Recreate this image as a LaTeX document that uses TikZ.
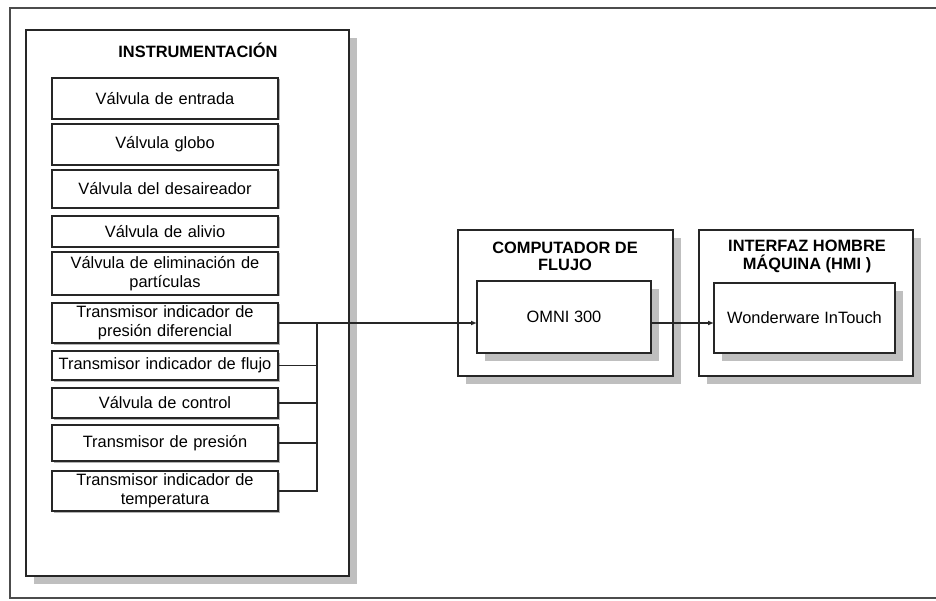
\documentclass[tikz,border=0pt]{standalone}
\usepackage{fontspec}
\setmainfont{Liberation Sans}
\usetikzlibrary{arrows.meta,shadows}
\begin{document}
\begin{tikzpicture}[x=1pt,y=-1pt,
  every node/.style={font=\fontsize{16.4}{19}\selectfont, inner sep=0pt, outer sep=0pt},
  frame/.style={draw=black!85, line width=1.6pt},
  panel/.style={frame, fill=white,
    drop shadow={shadow xshift=8pt, shadow yshift=-8pt, fill=black!25, opacity=1}},
  item/.style={frame, fill=white, minimum width=226pt, align=center, text width=222pt,
    drop shadow={shadow xshift=1.5pt, shadow yshift=-1.5pt, fill=black!30, opacity=1}},
  heading/.style={font=\fontsize{16.4}{17.5}\selectfont\bfseries, align=center},
  link/.style={line width=1.3pt, draw=black!85},
  arr/.style={link, -{Latex[length=6pt,width=5pt]}}
]
\useasboundingbox (0,0) rectangle (936,601);

% outer frame, running off the right edge
\begin{scope}
  \clip (0,0) rectangle (936,601);
  \draw[line width=1.5pt, draw=black!70] (10,8) rectangle (960,598);
\end{scope}

% instrumentation panel
\node[panel, minimum width=323pt, minimum height=546pt] (instr) at (187.5,303) {};
\node[heading] (instrT) at (198,50) {INSTRUMENTACIÓN};

\node[item, minimum height=41pt] (t1) at (165,98.5) {Válvula de entrada};
\node[item, minimum height=41pt] (t2) at (165,144.5) {Válvula globo};
\node[item, minimum height=38pt] (t3) at (165,189) {Válvula del desaireador};
\node[item, minimum height=31pt] (t4) at (165,231.5) {Válvula de alivio};
\node[item, minimum height=43pt] (t5) at (165,273.5) {Válvula de eliminación de\\partículas};
\node[item, minimum height=40pt] (t6) at (165,323) {Transmisor indicador de\\presión diferencial};
\node[item, minimum height=29pt] (t7) at (165,365.5) {Transmisor indicador de flujo};
\node[item, minimum height=30pt] (t8) at (165,403) {Válvula de control};
\node[item, minimum height=36pt] (t9) at (165,443) {Transmisor de presión};
\node[item, minimum height=40pt] (t10) at (165,491) {Transmisor indicador de\\temperatura};

% flow computer
\node[panel, minimum width=215pt, minimum height=146pt] (comp) at (565.5,303) {};
\node[heading] (compT) at (565,256.5) {COMPUTADOR DE\\FLUJO};
\node[panel, minimum width=174pt, minimum height=72pt] (omni) at (564,317) {OMNI 300};

% human-machine interface
\node[panel, minimum width=214pt, minimum height=146pt] (hmi) at (806,303) {};
\node[heading] (hmiT) at (807,256.5) {INTERFAZ HOMBRE\\MÁQUINA (HMI )};
\node[panel, minimum width=181pt, minimum height=70pt] (ww) at (804.5,318) {Wonderware InTouch};

% signal bus
\coordinate (bus) at (317,323);
\coordinate (lvl) at (t6.east);
\draw[link] (t7.east) -- (t7.east -| bus);
\draw[link] (t8.east) -- (t8.east -| bus);
\draw[link] (t9.east) -- (t9.east -| bus);
\draw[link] (t10.east) -| (bus);
\draw[arr] (t6.east) -- (lvl -| omni.west);
\draw[arr] (lvl -| omni.east) -- (lvl -| ww.west);
\end{tikzpicture}
\end{document}
